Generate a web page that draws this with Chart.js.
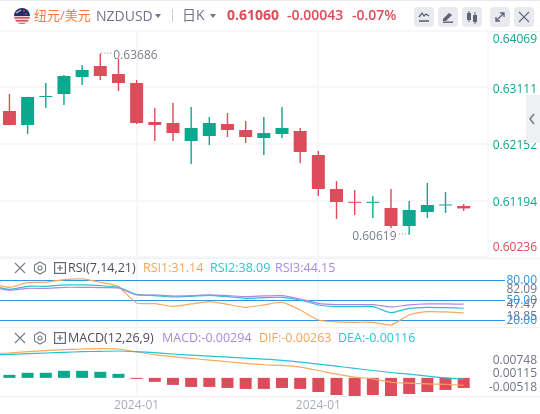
<!DOCTYPE html>
<html lang="zh">
<head>
<meta charset="utf-8">
<title>NZDUSD</title>
<script src="https://cdn.jsdelivr.net/npm/chart.js@4/dist/chart.umd.min.js"></script>
<style>
  html, body { margin: 0; padding: 0; background: #fff; }
  body { position: relative; width: 540px; height: 414px; overflow: hidden; font-family: "Open Sans", "Noto Sans CJK SC", sans-serif; }
  canvas { position: absolute; left: 0; }
  .txt { position: absolute; white-space: nowrap; line-height: 18px; z-index: 3; }
  .sep { position: absolute; left: 0; width: 540px; height: 1px; background: #f0f1f5; }
  .btn { position: absolute; top: 7px; width: 20px; height: 20px; border-radius: 4px; background: #e8eaf0; z-index: 3; }
  .btn svg, .ico { display: block; }
  .ico { position: absolute; z-index: 3; }
  .caret { position: absolute; top: 14px; width: 0; height: 0; border: 3.5px solid transparent; border-top: 4px solid #6f7486; border-bottom: 0; }
</style>
</head>
<body>
<div class="sep" style="top:0;background:#e6e9f0"></div>
<div class="sep" style="top:31px"></div>
<div class="sep" style="top:258px"></div>
<div class="sep" style="top:327px"></div>
<div class="sep" style="top:396px"></div>

<!-- top bar -->
<svg class="ico" style="left:14px;top:8px" width="16" height="16" viewBox="0 0 16 16">
  <clipPath id="flag"><circle cx="8" cy="8" r="8"/></clipPath>
  <g clip-path="url(#flag)">
    <rect width="16" height="8" fill="#1c2f6b"/>
    <circle cx="10" cy="3" r="1" fill="#d8394a"/><circle cx="12" cy="6" r="1" fill="#d8394a"/><path d="M2 5l5-3" stroke="#e9b5b8" stroke-width="1.4"/>
    <rect y="8" width="16" height="8" fill="#f3d6d8"/>
    <rect y="9" width="16" height="1.6" fill="#d8555f"/><rect y="12" width="16" height="1.6" fill="#d8555f"/><rect y="15" width="16" height="1" fill="#d8555f"/>
  </g>
</svg>
<div class="txt" style="left:34px;top:6px;font-size:13px;color:#f47b3c">纽元/美元</div>
<div class="txt" style="left:96px;top:7px;font-size:14px;color:#6f7486">NZDUSD</div>
<div class="caret" style="left:155px"></div>
<div class="sep" style="left:172px;top:9px;width:1px;height:13px;background:#c9ccd6"></div>
<div class="txt" style="left:182px;top:6px;font-size:14px;color:#6f7486">日K</div>
<div class="caret" style="left:210px"></div>
<div class="txt" style="left:227px;top:6px;font-size:14px;font-weight:700;color:#dc4c5a">0.61060</div>
<div class="txt" style="left:287px;top:6px;font-size:14px;font-weight:600;color:#dc4c5a">-0.00043</div>
<div class="txt" style="left:352px;top:6px;font-size:14px;font-weight:600;color:#dc4c5a">-0.07%</div>
<div class="btn" style="left:414px"><svg width="20" height="20" fill="none" stroke="#5f6475" stroke-width="1.3"><path d="M5 10l3-4 2 3 2-2 3 2"/><path d="M5 14h10" stroke-width="1.6"/></svg></div>
<div class="btn" style="left:438px"><svg width="20" height="20" fill="#5f6475"><path d="M5 12l6-6 3 2-6 6H5z"/><rect x="5" y="14.5" width="10" height="1.4"/></svg></div>
<div class="btn" style="left:462px"><svg width="20" height="20" fill="#5f6475"><rect x="5" y="6" width="4" height="7"/><rect x="11" y="8" width="4" height="7"/><rect x="6.5" y="4" width="1" height="11"/><rect x="12.5" y="5" width="1" height="12"/></svg></div>
<div class="btn" style="left:490px"><svg width="20" height="20" fill="none" stroke="#5f6475" stroke-width="1.3"><path d="M6 14l8-8M10 6h4v4M6 10v4h4"/></svg></div>
<div class="btn" style="left:514px"><svg width="20" height="20" fill="none" stroke="#5f6475" stroke-width="1.2"><path d="M5 5l10 10M15 5L5 15"/></svg></div>

<!-- RSI header -->
<svg class="ico" style="left:13px;top:261px" width="54" height="14" fill="none" stroke="#777b89" stroke-width="1.1"><path d="M2 2l10 10M12 2L2 12"/><path d="M27 1l5.500 3v6L27 13l-5.500-3V4z"/><circle cx="27" cy="7" r="2"/></svg>
<svg class="ico" style="left:54px;top:262px" width="12" height="12" fill="none" stroke="#666a78" stroke-width="1.2"><rect x=".6" y=".6" width="10.800" height="10.800"/><path d="M6 3v6M3 6h6"/></svg>
<div class="txt" style="left:68px;top:259px;font-size:12.500px;color:#4a4d59">RSI(7,14,21)</div>
<div class="txt" style="left:143px;top:259px;font-size:12.500px;color:#f5a45a">RSI1:31.14</div>
<div class="txt" style="left:210px;top:259px;font-size:12.500px;color:#2ec4d6">RSI2:38.09</div>
<div class="txt" style="left:275px;top:259px;font-size:12.500px;color:#a78be0">RSI3:44.15</div>

<!-- MACD header -->
<svg class="ico" style="left:13px;top:331px" width="54" height="14" fill="none" stroke="#777b89" stroke-width="1.1"><path d="M2 2l10 10M12 2L2 12"/><path d="M27 1l5.500 3v6L27 13l-5.500-3V4z"/><circle cx="27" cy="7" r="2"/></svg>
<svg class="ico" style="left:54px;top:332px" width="12" height="12" fill="none" stroke="#666a78" stroke-width="1.2"><rect x=".6" y=".6" width="10.800" height="10.800"/><path d="M6 3v6M3 6h6"/></svg>
<div class="txt" style="left:68px;top:329px;font-size:12.500px;color:#4a4d59">MACD(12,26,9)</div>
<div class="txt" style="left:162px;top:329px;font-size:12.500px;color:#a78be0">MACD:-0.00294</div>
<div class="txt" style="left:259px;top:329px;font-size:12.500px;color:#f5a45a">DIF:-0.00263</div>
<div class="txt" style="left:338px;top:329px;font-size:12.500px;color:#2ec4d6">DEA:-0.00116</div>

<!-- collapse handle -->
<div style="position:absolute;left:526px;top:95px;width:14px;height:48px;background:#eef0f4;z-index:3">
  <svg width="14" height="48" fill="none" stroke="#6f7486" stroke-width="1.4"><path d="M8 19l-4 5 4 5"/></svg>
</div>

<canvas id="priceChart"></canvas>
<canvas id="rsiChart"></canvas>
<canvas id="macdChart"></canvas>

<script>
// Candles, oldest first
const opens = [0.62712, 0.62475, 0.62950, 0.63000, 0.63289, 0.63475, 0.63340, 0.63187, 0.62526, 0.62509, 0.62203, 0.62288, 0.62492, 0.62390, 0.62254, 0.62322, 0.62373, 0.61966, 0.61389, 0.61169, 0.61155, 0.61067, 0.60762, 0.60999, 0.61110, 0.61101];
const highs = [0.63000, 0.62955, 0.63187, 0.63323, 0.63492, 0.63686, 0.63594, 0.63238, 0.62763, 0.62848, 0.62780, 0.62610, 0.62678, 0.62543, 0.62610, 0.62780, 0.62424, 0.62034, 0.61525, 0.61372, 0.61271, 0.61389, 0.61186, 0.61491, 0.61338, 0.61135];
const lows = [0.62470, 0.62322, 0.62763, 0.62814, 0.63153, 0.63238, 0.63051, 0.62492, 0.62203, 0.62203, 0.61813, 0.62136, 0.62271, 0.62169, 0.61966, 0.62254, 0.61830, 0.61271, 0.60880, 0.60948, 0.60897, 0.60728, 0.60619, 0.60897, 0.60982, 0.61016];
const closes = [0.62475, 0.62950, 0.62967, 0.63306, 0.63408, 0.63306, 0.63187, 0.62509, 0.62475, 0.62339, 0.62424, 0.62509, 0.62390, 0.62271, 0.62339, 0.62424, 0.62017, 0.61389, 0.61169, 0.61155, 0.61169, 0.60762, 0.61033, 0.61118, 0.61125, 0.61060];

// Indicator lines start one bar left of the first candle
const rsi1 = [75.5, 69.5, 76.5, 77, 81, 82, 77, 70.5, 46, 45, 41, 44.5, 48, 44, 39.5, 43, 47, 35.5, 20.5, 17.5, 17, 17, 13, 28, 33, 32.5, 31.14];
const rsi2 = [72, 66.5, 71, 71, 73, 73, 72, 69.5, 59, 57, 55, 56, 57.5, 55.5, 53, 54, 54.5, 50.5, 43, 40.5, 40.5, 40.5, 31.5, 38, 39.5, 39, 38.09];
const rsi3 = [70.5, 65, 68, 68, 69.5, 69.5, 69, 68.5, 58, 58, 56.5, 57, 58, 57, 55.5, 56.5, 57, 52, 45.5, 43.5, 43.5, 43.5, 40, 43, 44.5, 44.5, 44.15];
const dif = [0.00700, 0.00710, 0.00748, 0.00777, 0.00806, 0.00825, 0.00834, 0.00825, 0.00738, 0.00662, 0.00604, 0.00556, 0.00508, 0.00460, 0.00412, 0.00374, 0.00355, 0.00307, 0.00211, 0.00105, 0.00019, -0.00029, -0.00125, -0.00153, -0.00173, -0.00182, -0.00211];
const dea = [0.00662, 0.00671, 0.00690, 0.00710, 0.00729, 0.00748, 0.00758, 0.00767, 0.00748, 0.00719, 0.00681, 0.00652, 0.00623, 0.00595, 0.00566, 0.00537, 0.00499, 0.00451, 0.00393, 0.00336, 0.00269, 0.00211, 0.00153, 0.00105, 0.00048, 0, -0.00038];
const macd = [0.00086, 0.00144, 0.00144, 0.00201, 0.00201, 0.00173, 0.00115, -0.00029, -0.00115, -0.00201, -0.00259, -0.00259, -0.00288, -0.00316, -0.00316, -0.00288, -0.00316, -0.00403, -0.00489, -0.00518, -0.00489, -0.00518, -0.00460, -0.00403, -0.00345, -0.00288];

// Axis ticks
const dateTickBars = [7, 17];
const dateTickLabels = ["2024-01", "2024-01"];
const priceGrid = [0.64069, 0.63111, 0.62152, 0.61194, 0.60236];
const priceLabels = ["0.64069", "0.63111", "0.62152", "0.61194", "0.60236"];
const priceLabelSpots = [0.63925, 0.63077, 0.62124, 0.61164, 0.60401];
const rsiLevels = [80, 50, 20];
const rsiLabels = ["80.00", "82.09", "50.00", "47.47", "18.85", "20.00"];
const rsiLabelSpots = [79, 65.5, 49, 43, 25, 19];
const macdLabels = ["0.00748", "0.00115", "-0.00518"];
const macdLabelSpots = [0.00498, 0.00115, -0.00279];

const RED = "#dc4c5a";
const GREEN = "#0aa88d";
const ORANGE = "#f9a860";
const CYAN = "#28c2d6";
const PURPLE = "#a88ae2";
const BLUE = "#2f93e6";
const GRID = "#f6f7fa";
const FONT = '"Open Sans", "Noto Sans CJK SC", sans-serif';

const BAR_STEP = 18.17;
const candleColors = opens.map((o, i) => (closes[i] < o ? RED : GREEN));

// High and low callouts on the price pane
const priceNotes = {
  id: "priceNotes",
  afterDatasetsDraw(chart) {
    const { x, y } = chart.scales;
    const { ctx } = chart;
    const draw = (bar, value, dx1, dx2, textX, textY, text) => {
      const px = x.getPixelForValue(bar);
      const py = y.getPixelForValue(value);
      ctx.save();
      ctx.strokeStyle = "#7b7f8c";
      ctx.setLineDash([1, 2]);
      ctx.beginPath();
      ctx.moveTo(px + dx1, py - 0.5);
      ctx.lineTo(px + dx2, py - 0.5);
      ctx.stroke();
      ctx.fillStyle = "#7b7f8c";
      ctx.font = "12px " + FONT;
      ctx.textBaseline = "middle";
      ctx.fillText(text, px + textX, py + textY);
      ctx.restore();
    };
    const hi = highs.indexOf(Math.max(...highs));
    const lo = lows.indexOf(Math.min(...lows));
    draw(hi, highs[hi], 1, 11, 13, 2, highs[hi].toFixed(5));
    draw(lo, lows[lo], -10, 0, -57, 2.5, lows[lo].toFixed(5));
  },
};

// One pane: chart area runs areaTop..areaBottom, the canvas leaves room for tick labels
function makePane(id, top, height, padTop, padBottom, rightEdge, labelWidth, labelPad, pane) {
  const canvas = document.getElementById(id);
  canvas.width = 540;
  canvas.height = height;
  canvas.style.top = top + "px";
  canvas.style.width = "540px";
  canvas.style.height = height + "px";
  return new Chart(canvas, {
    data: { datasets: pane.datasets },
    plugins: pane.plugins || [],
    options: {
      responsive: false,
      animation: false,
      layout: { padding: { top: padTop, bottom: padBottom, left: 0, right: 3 } },
      plugins: { legend: { display: false }, tooltip: { enabled: false } },
      scales: {
        x: {
          type: "linear",
          offset: false,
          min: -0.52,
          max: rightEdge / BAR_STEP - 0.52,
          afterBuildTicks: (s) => { s.ticks = dateTickBars.map((v) => ({ value: v })); },
          afterFit: (s) => { s.height = pane.xHeight || 0; },
          grid: { color: GRID, lineWidth: 2, drawTicks: false, offset: false },
          border: { display: false },
          ticks: {
            display: !!pane.xHeight,
            autoSkip: false,
            maxRotation: 0,
            padding: 2,
            color: "#a9adb9",
            font: { family: FONT, size: 12 },
            callback: (v, i) => dateTickLabels[i],
          },
        },
        y: {
          position: "right",
          min: pane.min,
          max: pane.max,
          afterBuildTicks: (s) => { s.ticks = pane.gridValues.map((v) => ({ value: v })); },
          afterFit: (s) => { s.width = 0; },
          grid: { color: pane.gridColor, lineWidth: pane.gridWidth, drawTicks: false },
          border: { display: !!pane.edge, color: GRID, width: 2 },
          ticks: { display: false },
        },
        yLabels: {
          position: "right",
          min: pane.min,
          max: pane.max,
          afterBuildTicks: (s) => { s.ticks = pane.labelSpots.map((v) => ({ value: v })); },
          afterFit: (s) => { s.width = labelWidth; },
          grid: { display: false, drawTicks: false },
          border: { display: false },
          ticks: {
            autoSkip: false,
            padding: labelPad,
            crossAlign: "far",
            font: { family: FONT, size: 12 },
            color: (c) => pane.labelColors[c.index],
            callback: (v, i) => pane.labels[i],
          },
        },
      },
    },
  });
}

const lineSet = (values, color) => ({
  type: "line",
  data: values.map((v, i) => ({ x: i - 1, y: v })),
  borderColor: color,
  borderWidth: 1.2,
  pointRadius: 0,
  tension: 0.2,
});

// Price pane, 31..257
makePane("priceChart", 15, 260, 16, 18, 488, 49, 3, {
  min: 0.60236,
  max: 0.64069,
  gridValues: priceGrid,
  gridColor: GRID,
  gridWidth: 2,
  edge: true,
  labelSpots: priceLabelSpots,
  labels: priceLabels,
  labelColors: [GREEN, GREEN, GREEN, GREEN, RED],
  plugins: [priceNotes],
  datasets: [
    {
      type: "bar",
      grouped: false,
      maxBarThickness: 1.4,
      order: 2,
      backgroundColor: candleColors,
      data: highs.map((h, i) => ({ x: i, y: [lows[i], h] })),
    },
    {
      type: "bar",
      grouped: false,
      maxBarThickness: 13,
      minBarLength: 1,
      order: 1,
      backgroundColor: candleColors,
      data: opens.map((o, i) => ({ x: i, y: [o, closes[i]] })),
    },
  ],
});

// RSI pane, 258..327
makePane("rsiChart", 242, 101, 16, 16, 505, 32, 0, {
  min: 9.95,
  max: 113.45,
  gridValues: rsiLevels,
  gridColor: BLUE,
  gridWidth: 1,
  labelSpots: rsiLabelSpots,
  labels: rsiLabels,
  labelColors: [BLUE, "#6f7486", BLUE, "#6f7486", "#6f7486", BLUE],
  datasets: [lineSet(rsi3, PURPLE), lineSet(rsi2, CYAN), lineSet(rsi1, ORANGE)],
});

// MACD pane, 327..396, date labels underneath
makePane("macdChart", 312, 102, 15, 0, 488, 49, 0, {
  min: -0.00518,
  max: 0.01453,
  gridValues: [],
  gridColor: GRID,
  gridWidth: 1,
  xHeight: 18,
  labelSpots: macdLabelSpots,
  labels: macdLabels,
  labelColors: ["#6f7486", "#6f7486", "#6f7486"],
  datasets: [
    lineSet(dea, CYAN),
    lineSet(dif, ORANGE),
    {
      type: "bar",
      grouped: false,
      maxBarThickness: 12,
      minBarLength: 1,
      backgroundColor: macd.map((v) => (v < 0 ? RED : GREEN)),
      data: macd.map((v, i) => ({ x: i, y: v })),
    },
  ],
});
</script>
</body>
</html>
